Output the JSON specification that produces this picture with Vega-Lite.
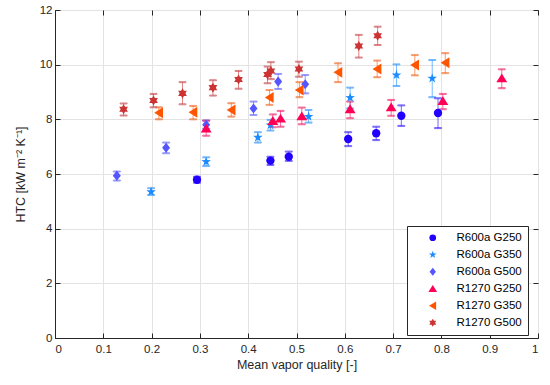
{
  "$schema": "https://vega.github.io/schema/vega-lite/v6.json",
  "width": 483,
  "height": 328,
  "autosize": {"type": "none"},
  "padding": {"left": 55, "top": 10, "right": 12, "bottom": 47},
  "background": "white",
  "config": {
    "font": "Liberation Sans",
    "view": {"stroke": "#262626", "strokeWidth": 1},
    "axis": {
      "labelFontSize": 11.5,
      "labelColor": "#262626",
      "titleFontSize": 12.5,
      "titleFontWeight": "normal",
      "titleColor": "#262626",
      "domainColor": "#262626",
      "tickColor": "#262626",
      "gridColor": "#e3e3e3",
      "tickSize": -5
    },
    "legend": {"orient": "none", "legendX": 352, "legendY": 216, "strokeColor": "#262626", "fillColor": "white", "padding": 6, "symbolOffset": 14, "labelOffset": 18, "labelFontSize": 11.5, "labelColor": "#000000", "symbolSize": 45, "rowPadding": 4}
  },
  "data": {
    "values": [
      {"s": "R600a G250", "q": 0.294, "htc": 5.79, "lo": 5.68, "hi": 5.90},
      {"s": "R600a G250", "q": 0.446, "htc": 6.49, "lo": 6.33, "hi": 6.63},
      {"s": "R600a G250", "q": 0.484, "htc": 6.63, "lo": 6.48, "hi": 6.82},
      {"s": "R600a G250", "q": 0.607, "htc": 7.28, "lo": 7.02, "hi": 7.53},
      {"s": "R600a G250", "q": 0.665, "htc": 7.49, "lo": 7.24, "hi": 7.73},
      {"s": "R600a G250", "q": 0.717, "htc": 8.13, "lo": 7.76, "hi": 8.51},
      {"s": "R600a G250", "q": 0.793, "htc": 8.23, "lo": 7.68, "hi": 8.77},
      {"s": "R600a G350", "q": 0.199, "htc": 5.35, "lo": 5.23, "hi": 5.48},
      {"s": "R600a G350", "q": 0.313, "htc": 6.45, "lo": 6.29, "hi": 6.61},
      {"s": "R600a G350", "q": 0.420, "htc": 7.34, "lo": 7.15, "hi": 7.53},
      {"s": "R600a G350", "q": 0.446, "htc": 7.79, "lo": 7.59, "hi": 7.98},
      {"s": "R600a G350", "q": 0.525, "htc": 8.10, "lo": 7.88, "hi": 8.34},
      {"s": "R600a G350", "q": 0.611, "htc": 8.79, "lo": 8.40, "hi": 9.16},
      {"s": "R600a G350", "q": 0.707, "htc": 9.62, "lo": 9.22, "hi": 10.01},
      {"s": "R600a G350", "q": 0.781, "htc": 9.50, "lo": 8.81, "hi": 10.17},
      {"s": "R600a G500", "q": 0.128, "htc": 5.94, "lo": 5.76, "hi": 6.09},
      {"s": "R600a G500", "q": 0.230, "htc": 6.96, "lo": 6.76, "hi": 7.15},
      {"s": "R600a G500", "q": 0.313, "htc": 7.80, "lo": 7.66, "hi": 7.96},
      {"s": "R600a G500", "q": 0.411, "htc": 8.40, "lo": 8.16, "hi": 8.65},
      {"s": "R600a G500", "q": 0.462, "htc": 9.38, "lo": 9.11, "hi": 9.66},
      {"s": "R600a G500", "q": 0.518, "htc": 9.28, "lo": 8.95, "hi": 9.62},
      {"s": "R1270 G250", "q": 0.313, "htc": 7.67, "lo": 7.40, "hi": 7.95},
      {"s": "R1270 G250", "q": 0.451, "htc": 7.95, "lo": 7.71, "hi": 8.18},
      {"s": "R1270 G250", "q": 0.467, "htc": 8.04, "lo": 7.73, "hi": 8.31},
      {"s": "R1270 G250", "q": 0.511, "htc": 8.12, "lo": 7.82, "hi": 8.43},
      {"s": "R1270 G250", "q": 0.611, "htc": 8.38, "lo": 8.04, "hi": 8.65},
      {"s": "R1270 G250", "q": 0.696, "htc": 8.45, "lo": 8.13, "hi": 8.71},
      {"s": "R1270 G250", "q": 0.803, "htc": 8.68, "lo": 8.37, "hi": 8.93},
      {"s": "R1270 G250", "q": 0.925, "htc": 9.51, "lo": 9.14, "hi": 9.83},
      {"s": "R1270 G350", "q": 0.215, "htc": 8.24, "lo": 8.00, "hi": 8.44},
      {"s": "R1270 G350", "q": 0.286, "htc": 8.26, "lo": 8.00, "hi": 8.49},
      {"s": "R1270 G350", "q": 0.365, "htc": 8.34, "lo": 8.10, "hi": 8.59},
      {"s": "R1270 G350", "q": 0.444, "htc": 8.80, "lo": 8.53, "hi": 9.07},
      {"s": "R1270 G350", "q": 0.506, "htc": 9.07, "lo": 8.81, "hi": 9.36},
      {"s": "R1270 G350", "q": 0.586, "htc": 9.72, "lo": 9.36, "hi": 10.05},
      {"s": "R1270 G350", "q": 0.667, "htc": 9.84, "lo": 9.54, "hi": 10.15},
      {"s": "R1270 G350", "q": 0.745, "htc": 9.99, "lo": 9.61, "hi": 10.35},
      {"s": "R1270 G350", "q": 0.808, "htc": 10.07, "lo": 9.69, "hi": 10.42},
      {"s": "R1270 G500", "q": 0.142, "htc": 8.37, "lo": 8.14, "hi": 8.58},
      {"s": "R1270 G500", "q": 0.204, "htc": 8.69, "lo": 8.44, "hi": 8.93},
      {"s": "R1270 G500", "q": 0.264, "htc": 8.95, "lo": 8.55, "hi": 9.36},
      {"s": "R1270 G500", "q": 0.327, "htc": 9.16, "lo": 8.87, "hi": 9.43},
      {"s": "R1270 G500", "q": 0.380, "htc": 9.46, "lo": 9.12, "hi": 9.77},
      {"s": "R1270 G500", "q": 0.440, "htc": 9.64, "lo": 9.32, "hi": 9.93},
      {"s": "R1270 G500", "q": 0.447, "htc": 9.77, "lo": 9.47, "hi": 10.09},
      {"s": "R1270 G500", "q": 0.505, "htc": 9.84, "lo": 9.56, "hi": 10.11},
      {"s": "R1270 G500", "q": 0.629, "htc": 10.68, "lo": 10.26, "hi": 11.09},
      {"s": "R1270 G500", "q": 0.668, "htc": 11.06, "lo": 10.72, "hi": 11.39}
    ]
  },
  "layer": [
    {
      "mark": {"type": "rule", "strokeOpacity": 0.6, "strokeWidth": 1},
      "encoding": {
        "x": {"field": "q", "type": "quantitative", "scale": {"domain": [0, 1]},
          "axis": {"values": [0, 0.1, 0.2, 0.3, 0.4, 0.5, 0.6, 0.7, 0.8, 0.9, 1], "format": "~g", "title": "Mean vapor quality [-]", "labelPadding": 10, "titlePadding": 4}},
        "y": {"field": "lo", "type": "quantitative", "scale": {"domain": [0, 12]},
          "axis": {"values": [0, 2, 4, 6, 8, 10, 12], "title": "HTC [kW m⁻² K⁻¹]", "labelPadding": 8, "titlePadding": 12}},
        "y2": {"field": "hi"},
        "stroke": {"field": "s", "type": "nominal", "legend": null,
          "scale": {"range": ["#ff0055", "#ff5500", "#cc3333", "#2200ff", "#1a8cff", "#5555ff"]}}
      }
    },
    {
      "mark": {"type": "tick", "orient": "horizontal", "size": 7, "thickness": 1, "opacity": 0.6},
      "encoding": {
        "x": {"field": "q", "type": "quantitative", "axis": null},
        "y": {"field": "lo", "type": "quantitative", "axis": null},
        "stroke": {"field": "s", "type": "nominal", "legend": null}
      }
    },
    {
      "mark": {"type": "tick", "orient": "horizontal", "size": 7, "thickness": 1, "opacity": 0.6},
      "encoding": {
        "x": {"field": "q", "type": "quantitative", "axis": null},
        "y": {"field": "hi", "type": "quantitative", "axis": null},
        "stroke": {"field": "s", "type": "nominal", "legend": null}
      }
    },
    {
      "mark": {"type": "point", "filled": true, "opacity": 1, "size": 70},
      "encoding": {
        "x": {"field": "q", "type": "quantitative", "axis": null},
        "y": {"field": "htc", "type": "quantitative", "axis": null},
        "color": {"field": "s", "type": "nominal", "title": null,
          "scale": {"domain": ["R600a G250", "R600a G350", "R600a G500", "R1270 G250", "R1270 G350", "R1270 G500"],
            "range": ["#2200ff", "#1a8cff", "#5555ff", "#ff0055", "#ff5500", "#cc3333"]}},
        "shape": {"field": "s", "type": "nominal", "title": null,
          "scale": {"domain": ["R600a G250", "R600a G350", "R600a G500", "R1270 G250", "R1270 G350", "R1270 G500"],
            "range": ["circle",
              "M0,-1.2L0.282,-0.389L1.141,-0.371L0.456,0.149L0.706,0.971L0,0.48L-0.706,0.971L-0.456,0.149L-1.141,-0.371L-0.282,-0.389Z",
              "M0,-1.2L0.95,0L0,1.2L-0.95,0Z",
              "M0,-1.1L1.3,1L-1.3,1Z",
              "M-1.1,0L1,-1.3L1,1.3Z",
              "M0,-1.2L0.347,-0.6L1.039,-0.6L0.692,0L1.039,0.6L0.347,0.6L0,1.2L-0.347,0.6L-1.039,0.6L-0.692,0L-1.039,-0.6L-0.347,-0.6Z"]}}
      }
    },
    {
      "mark": {"type": "point", "opacity": 0},
      "encoding": {
        "x": {"field": "q", "type": "quantitative", "axis": {"orient": "top", "values": [0, 0.1, 0.2, 0.3, 0.4, 0.5, 0.6, 0.7, 0.8, 0.9, 1], "labels": false, "grid": false, "title": null, "domain": false}},
        "y": {"field": "htc", "type": "quantitative", "axis": {"orient": "right", "values": [0, 2, 4, 6, 8, 10, 12], "labels": false, "grid": false, "title": null, "domain": false}}
      }
    }
  ],
  "resolve": {"axis": {"x": "independent", "y": "independent"}}
}
